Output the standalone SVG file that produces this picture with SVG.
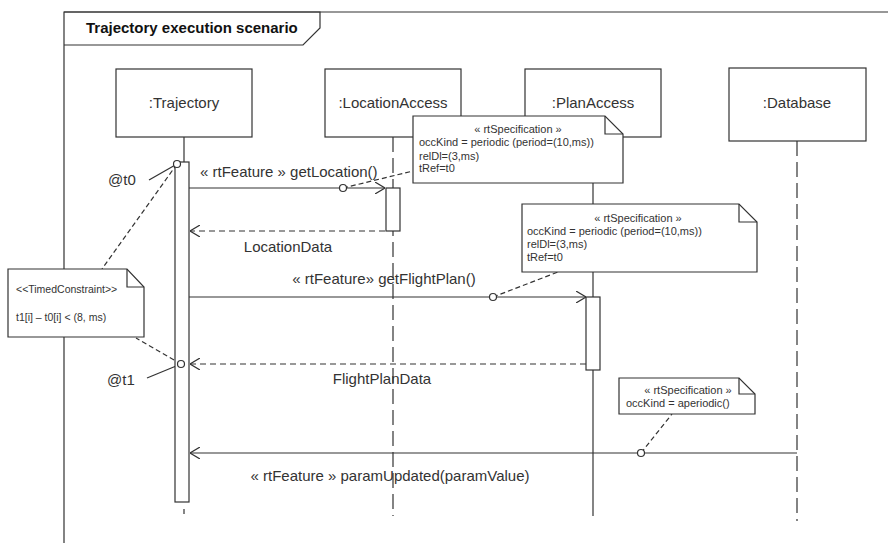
<svg xmlns="http://www.w3.org/2000/svg" width="888" height="543" viewBox="0 0 888 543">
<style>
.t{font-family:"Liberation Sans",Arial,sans-serif;font-size:15px;fill:#333}
.b{font-weight:bold;fill:#111}
.n{font-size:11px}
.s{font-size:10.5px}
.mid{text-anchor:middle}
.box{fill:#fff;stroke:#333;stroke-width:1.2}
.ln{fill:none;stroke:#333;stroke-width:1.2}
.life{fill:none;stroke:#333;stroke-width:1.2;stroke-dasharray:15 6}
.ret{fill:none;stroke:#333;stroke-width:1.2;stroke-dasharray:6 4}
.anc{fill:none;stroke:#333;stroke-width:1.2;stroke-dasharray:5 3}
.dot{fill:#fff;stroke:#333;stroke-width:1.2}
</style>
<defs>
<marker id="arr" viewBox="0 0 10 12" refX="10" refY="6" markerWidth="10" markerHeight="12" markerUnits="userSpaceOnUse" orient="auto">
<path d="M0,0 L10,6 L0,12" fill="none" stroke="#333" stroke-width="1.2"/>
</marker>
</defs>
<rect width="888" height="543" fill="#fff"/>
<g id="frame">
<path class="ln" d="M64,543 L64,12 L888,12"/>
<path class="ln" d="M64,12 L320,12 L320,28 L303,45 L64,45"/>
<text class="t b" x="86" y="33">Trajectory execution scenario</text>
</g>
<g id="trajectory">
<line class="ln" x1="184" y1="137" x2="184" y2="162"/>
<line class="ln" x1="184" y1="509" x2="184" y2="514"/>
<rect class="box" x="116" y="69" width="136" height="68"/>
<text class="t mid" x="184" y="108">:Trajectory</text>
</g>
<g id="locationAccess">
<line class="life" x1="393" y1="137" x2="393" y2="516"/>
<rect class="box" x="325" y="69" width="136" height="68"/>
<text class="t mid" x="393" y="108">:LocationAccess</text>
</g>
<g id="planAccess">
<line class="ln" x1="593" y1="137" x2="593" y2="516"/>
<rect class="box" x="525" y="69" width="136" height="68"/>
<text class="t mid" x="593" y="108">:PlanAccess</text>
</g>
<g id="database">
<line class="life" x1="797" y1="141" x2="797" y2="521"/>
<rect class="box" x="729" y="68" width="137" height="73"/>
<text class="t mid" x="797" y="108">:Database</text>
</g>
<g id="connectors">
<line class="ln" x1="189" y1="188" x2="385" y2="188" marker-end="url(#arr)"/>
<line class="ret" x1="385" y1="231" x2="190" y2="231" marker-end="url(#arr)"/>
<line class="ln" x1="189" y1="297" x2="586" y2="297" marker-end="url(#arr)"/>
<line class="ret" x1="586" y1="364" x2="190" y2="364" marker-end="url(#arr)"/>
<line class="ln" x1="797" y1="453" x2="190" y2="453" marker-end="url(#arr)"/>
<line class="anc" x1="343" y1="188" x2="413" y2="171"/>
<line class="anc" x1="493" y1="297" x2="558" y2="272"/>
<line class="anc" x1="641" y1="453" x2="672" y2="414"/>
<line class="anc" x1="177" y1="164" x2="102" y2="269"/>
<line class="anc" x1="181" y1="364" x2="136" y2="338"/>
<line class="ln" x1="149" y1="180" x2="177" y2="164"/>
<line class="ln" x1="147" y1="378" x2="181" y2="364"/>
<text class="t" x="200" y="177">« rtFeature » getLocation()</text>
<text class="t mid" x="288" y="252">LocationData</text>
<text class="t mid" x="384" y="284">« rtFeature» getFlightPlan()</text>
<text class="t mid" x="382" y="384">FlightPlanData</text>
<text class="t mid" x="390" y="481">« rtFeature » paramUpdated(paramValue)</text>
</g>
<g id="bars">
<rect class="box" x="175" y="162" width="14" height="340"/>
<rect class="box" x="386" y="188" width="14" height="43"/>
<rect class="box" x="586" y="297" width="14" height="73"/>
</g>
<g id="timepoints">
<circle class="dot" cx="177" cy="164" r="3.5"/>
<circle class="dot" cx="181" cy="364" r="3.5"/>
<circle class="dot" cx="343" cy="188" r="3.5"/>
<circle class="dot" cx="493" cy="297" r="3.5"/>
<circle class="dot" cx="641" cy="453" r="3.5"/>
<text class="t" x="108" y="185">@t0</text>
<text class="t" x="107" y="385">@t1</text>
</g>
<g id="note1">
<path class="box" d="M413,116 L605,116 L623,134 L623,183 L413,183 Z"/>
<path class="ln" d="M605,116 L605,134 L623,134"/>
<text class="t n mid" x="518" y="133">« rtSpecification »</text>
<text class="t n" x="419" y="146">occKind = periodic (period=(10,ms))</text>
<text class="t n" x="419" y="160">relDl=(3,ms)</text>
<text class="t n" x="419" y="172">tRef=t0</text>
</g>
<g id="note2">
<path class="box" d="M522,204 L739,204 L757,222 L757,272 L522,272 Z"/>
<path class="ln" d="M739,204 L739,222 L757,222"/>
<text class="t n mid" x="638" y="222">« rtSpecification »</text>
<text class="t n" x="527" y="235">occKind = periodic (period=(10,ms))</text>
<text class="t n" x="527" y="248">relDl=(3,ms)</text>
<text class="t n" x="527" y="261">tRef=t0</text>
</g>
<g id="note3">
<path class="box" d="M619,378 L739,378 L755,394 L755,414 L619,414 Z"/>
<path class="ln" d="M739,378 L739,394 L755,394"/>
<text class="t n mid" x="688" y="394">« rtSpecification »</text>
<text class="t n" x="626" y="407">occKind = aperiodic()</text>
</g>
<g id="timedConstraint">
<path class="box" d="M8,269 L127,269 L144,287 L144,337 L8,337 Z"/>
<path class="ln" d="M127,269 L127,287 L144,287"/>
<text class="t s" x="16" y="293">&lt;&lt;TimedConstraint&gt;&gt;</text>
<text class="t s" x="16" y="321">t1[i] – t0[i] &lt; (8, ms)</text>
</g>
</svg>
